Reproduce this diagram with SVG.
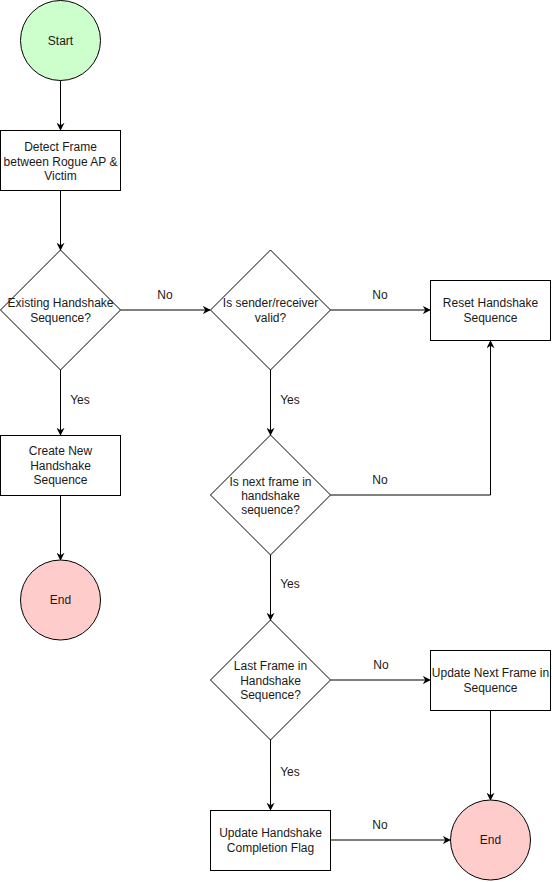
<svg xmlns="http://www.w3.org/2000/svg" width="552" height="882" viewBox="0 0 552 882">
<defs>
<style>
.shape{stroke:#000;stroke-width:1;fill:#fff}
.start{fill:#ccffcc}
.end{fill:#ffcccc}
text{font-family:"Liberation Sans",Arial,Helvetica,sans-serif;font-size:12px;fill:#1a1a1a;text-anchor:middle}
.edge{fill:none;stroke:#000;stroke-width:1;marker-end:url(#arrow)}
</style>
<marker id="arrow" viewBox="0 0 10 10" refX="9" refY="5" markerWidth="8" markerHeight="8" markerUnits="userSpaceOnUse" orient="auto">
<path d="M0,0 L10,5 L0,10 L3,5 Z" fill="#000"/>
</marker>
</defs>
<rect width="552" height="882" fill="#fff"/>
<g id="connectors">
<path class="edge" d="M60.5,80.5 L60.5,130"/>
<path class="edge" d="M60.5,190.5 L60.5,250"/>
<path class="edge" d="M60.5,370 L60.5,435"/>
<path class="edge" d="M60.5,495.5 L60.5,560"/>
<path class="edge" d="M120.5,310 L210,310"/>
<path class="edge" d="M330.5,310 L430,310"/>
<path class="edge" d="M270.5,370 L270.5,435"/>
<path class="edge" d="M330.5,495 L490.5,495 L490.5,341"/>
<path class="edge" d="M270.5,555 L270.5,620"/>
<path class="edge" d="M330.5,680 L430,680"/>
<path class="edge" d="M270.5,740 L270.5,810"/>
<path class="edge" d="M490.5,710.5 L490.5,800"/>
<path class="edge" d="M330.5,840 L450,840"/>
<text x="165" y="299">No</text>
<text x="80" y="404">Yes</text>
<text x="380" y="299">No</text>
<text x="290" y="404">Yes</text>
<text x="380" y="484">No</text>
<text x="290" y="588">Yes</text>
<text x="381" y="669">No</text>
<text x="290" y="776">Yes</text>
<text x="380" y="829">No</text>
</g>
<g id="start">
<circle class="shape start" cx="60.5" cy="40.5" r="40"/>
<text x="60.5" y="44.5">Start</text>
</g>
<g id="detect-frame">
<rect class="shape" x="0.5" y="130.5" width="120" height="60"/>
<text x="60.5" y="151">Detect Frame</text>
<text x="60.5" y="165.5">between Rogue AP &amp;</text>
<text x="60.5" y="180">Victim</text>
</g>
<g id="existing-handshake">
<path class="shape" d="M60.5,250 L120.5,310 L60.5,370 L0.5,310 Z"/>
<text x="60.5" y="307">Existing Handshake</text>
<text x="60.5" y="322">Sequence?</text>
</g>
<g id="create-new">
<rect class="shape" x="0.5" y="435.5" width="120" height="60"/>
<text x="60.5" y="455">Create New</text>
<text x="60.5" y="469.5">Handshake</text>
<text x="60.5" y="484">Sequence</text>
</g>
<g id="end-left">
<circle class="shape end" cx="60.5" cy="600" r="40"/>
<text x="60.5" y="604">End</text>
</g>
<g id="sender-valid">
<path class="shape" d="M270.5,250 L330.5,310 L270.5,370 L210.5,310 Z"/>
<text x="270.5" y="307">Is sender/receiver</text>
<text x="270.5" y="322">valid?</text>
</g>
<g id="reset">
<rect class="shape" x="430.5" y="280.5" width="120" height="60"/>
<text x="490.5" y="307">Reset Handshake</text>
<text x="490.5" y="322">Sequence</text>
</g>
<g id="next-frame">
<path class="shape" d="M270.5,435 L330.5,495 L270.5,555 L210.5,495 Z"/>
<text x="270.5" y="486">Is next frame in</text>
<text x="270.5" y="500">handshake</text>
<text x="270.5" y="514">sequence?</text>
</g>
<g id="last-frame">
<path class="shape" d="M270.5,620 L330.5,680 L270.5,740 L210.5,680 Z"/>
<text x="270.5" y="670">Last Frame in</text>
<text x="270.5" y="684.5">Handshake</text>
<text x="270.5" y="699">Sequence?</text>
</g>
<g id="update-next">
<rect class="shape" x="430.5" y="650.5" width="120" height="60"/>
<text x="490.5" y="677">Update Next Frame in</text>
<text x="490.5" y="692">Sequence</text>
</g>
<g id="update-completion">
<rect class="shape" x="210.5" y="810.5" width="120" height="60"/>
<text x="270.5" y="837">Update Handshake</text>
<text x="270.5" y="852">Completion Flag</text>
</g>
<g id="end-right">
<circle class="shape end" cx="490.5" cy="840" r="40"/>
<text x="490.5" y="844">End</text>
</g>
</svg>
